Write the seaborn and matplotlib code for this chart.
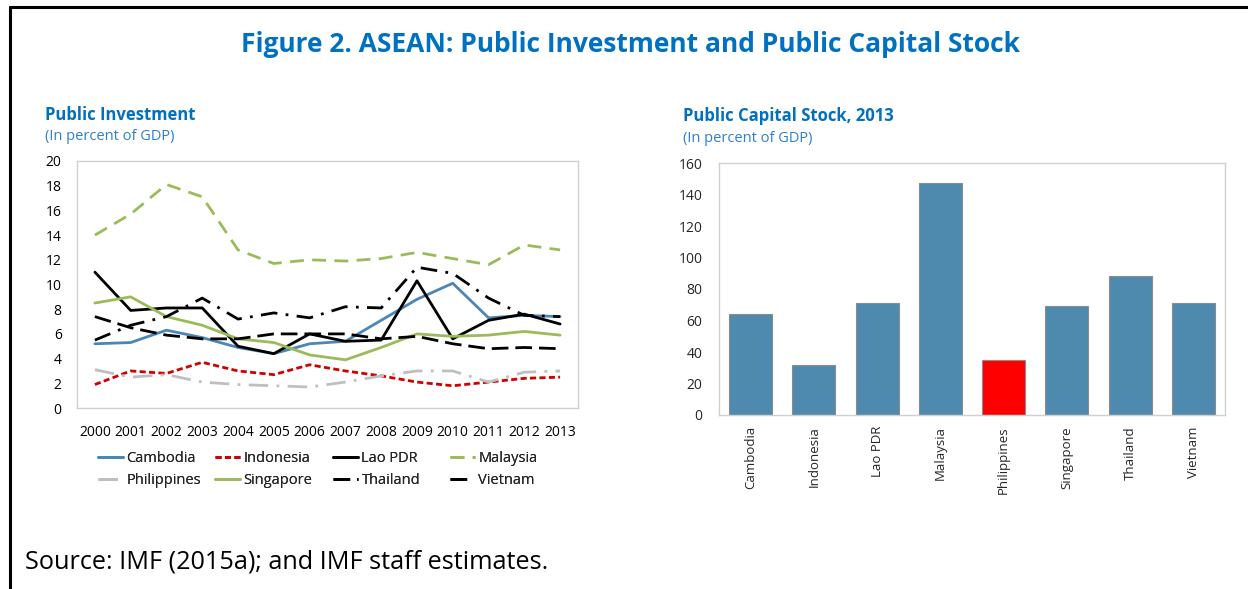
import numpy as np
import pandas as pd
import matplotlib
matplotlib.use("Agg")
import matplotlib.pyplot as plt
from matplotlib.lines import Line2D
import seaborn as sns

years = list(range(2000, 2014))

cambodia = [5.2, 5.3, 6.3, 5.7, 4.9, 4.4, 5.2, 5.4, 7.1, 8.8, 10.1, 7.3, 7.5, 7.4]
indonesia = [1.9, 3.0, 2.8, 3.7, 3.0, 2.7, 3.5, 3.0, 2.6, 2.1, 1.8, 2.1, 2.4, 2.5]
lao = [11.0, 7.9, 8.1, 8.1, 5.0, 4.4, 6.0, 5.4, 5.5, 10.3, 5.6, 7.1, 7.6, 6.8]
malaysia = [14.0, 15.7, 18.1, 17.1, 12.8, 11.7, 12.0, 11.9, 12.1, 12.6, 12.1, 11.6, 13.2, 12.8]
philippines = [3.1, 2.5, 2.7, 2.1, 1.9, 1.8, 1.7, 2.1, 2.6, 3.0, 3.0, 2.1, 2.9, 3.0]
singapore = [8.5, 9.0, 7.4, 6.7, 5.6, 5.3, 4.3, 3.9, 4.9, 6.0, 5.8, 5.9, 6.2, 5.9]
thailand = [7.4, 6.5, 5.9, 5.6, 5.6, 6.0, 6.0, 6.0, 5.6, 5.8, 5.2, 4.8, 4.9, 4.8]
vietnam = [5.5, 6.7, 7.4, 8.9, 7.2, 7.7, 7.3, 8.2, 8.1, 11.4, 10.9, 8.9, 7.5, 7.4]

countries = ["Cambodia", "Indonesia", "Lao PDR", "Malaysia",
             "Philippines", "Singapore", "Thailand", "Vietnam"]
capital_stock = [64, 32, 71, 147, 35, 69, 88, 71]

series = dict(zip(countries, [cambodia, indonesia, lao, malaysia,
                              philippines, singapore, thailand, vietnam]))

# line look for each country
styles = {
    "Cambodia": ("#4A86B8", "-"),
    "Indonesia": ("#D00000", (0, (2.2, 1.2))),
    "Lao PDR": ("black", "-"),
    "Malaysia": ("#9BBB59", (0, (5, 3))),
    "Philippines": ("#BFBFBF", (0, (7, 3, 1, 3))),
    "Singapore": ("#9BBB59", "-"),
    "Thailand": ("black", (0, (6, 2.5))),
    "Vietnam": ("black", (0, (6, 3, 1, 3))),
}

sns.set_theme(style="white")
plt.rcParams["font.family"] = ["Open Sans", "DejaVu Sans"]

title_blue = "#0070C0"
sub_blue = "#2F80C8"
W, H = 1248, 589

fig = plt.figure(figsize=(12.48, 5.89), dpi=100)

# frame lines (top and left) like the report box
fig.add_artist(Line2D([10 / W, 10 / W], [0, 1 - 7 / H], color="black", lw=2.2,
                      transform=fig.transFigure))
fig.add_artist(Line2D([10 / W, 1], [1 - 7 / H, 1 - 7 / H], color="black", lw=2.2,
                      transform=fig.transFigure))

fig.text(0.505, 1 - 45 / H, "Figure 2. ASEAN: Public Investment and Public Capital Stock",
         ha="center", va="center", fontsize=19, fontweight="bold", color=title_blue)

# ---- left panel: public investment
ax1 = fig.add_axes([77 / W, 1 - 408 / H, 501 / W, 247 / H])
df = pd.DataFrame({"year": years * len(countries),
                   "country": np.repeat(countries, len(years)),
                   "value": sum((series[c] for c in countries), [])})
for c in countries:
    col, ls = styles[c]
    sub = df[df.country == c]
    sns.lineplot(data=sub, x="year", y="value", ax=ax1, color=col, linestyle=ls,
                 lw=2.0, label=c, legend=False)

ax1.set_xlim(1999.5, 2013.5)
ax1.set_ylim(0, 20)
ax1.set_yticks(range(0, 21, 2))
ax1.set_xticks(years)
ax1.set_xlabel("")
ax1.set_ylabel("")
ax1.tick_params(axis="x", labelsize=10, length=0, colors="black", pad=12)
ax1.tick_params(axis="y", labelsize=10, length=0, colors="black", pad=11)
for sp in ax1.spines.values():
    sp.set_color("#D0D0D0")
    sp.set_linewidth(1)

ax1.text(-32 / 501, 1 + 46 / 247, "Public Investment", transform=ax1.transAxes, fontsize=12,
         fontweight="bold", color=title_blue, ha="left", va="center")
ax1.text(-32 / 501, 1 + 24 / 247, "(In percent of GDP)", transform=ax1.transAxes, fontsize=10.5,
         color=sub_blue, ha="left", va="center")

# legend: four little two-row legends at fixed columns, row by row like the original
handles, labels = ax1.get_legend_handles_labels()
hmap = dict(zip(labels, handles))
col_x = [98, 215, 333, 450]
for i, x in enumerate(col_x):
    pair = [countries[i], countries[i + 4]]
    leg = fig.legend([hmap[c] for c in pair], pair, loc="center left",
                     bbox_to_anchor=(x / W, 1 - 469.5 / H), frameon=False, fontsize=10.5,
                     handlelength=1.7, handletextpad=0.25, labelspacing=0.5,
                     borderpad=0, borderaxespad=0)
    fig.add_artist(leg)

# ---- right panel: capital stock
ax2 = fig.add_axes([719 / W, 1 - 415 / H, 506 / W, 252 / H])
bar_df = pd.DataFrame({"country": countries, "stock": capital_stock})
pal = {c: ("#FF0000" if c == "Philippines" else "#4E8AAD") for c in countries}
sns.barplot(data=bar_df, x="country", y="stock", hue="country", palette=pal,
            legend=False, ax=ax2, width=0.68, edgecolor="#8C8C8C", linewidth=0.8,
            saturation=1)
ax2.set_ylim(0, 160)
ax2.set_yticks(range(0, 161, 20))
ax2.set_xlim(-0.5, 7.5)
ax2.set_xlabel("")
ax2.set_ylabel("")
ax2.tick_params(axis="x", labelrotation=90, labelsize=9.5, length=0, pad=8)
ax2.tick_params(axis="y", labelsize=10, length=0, pad=12)
for sp in ax2.spines.values():
    sp.set_color("#D0D0D0")
    sp.set_linewidth(1)

ax2.text(-36 / 506, 1 + 47 / 252, "Public Capital Stock, 2013", transform=ax2.transAxes,
         fontsize=12, fontweight="bold", color=title_blue, ha="left", va="center")
ax2.text(-36 / 506, 1 + 25 / 252, "(In percent of GDP)", transform=ax2.transAxes,
         fontsize=10.5, color=sub_blue, ha="left", va="center")

fig.text(25 / W, 1 - 562 / H, "Source: IMF (2015a); and IMF staff estimates.",
         fontsize=18.2, ha="left", va="center", color="black")

fig.savefig("out.png", dpi=100)
